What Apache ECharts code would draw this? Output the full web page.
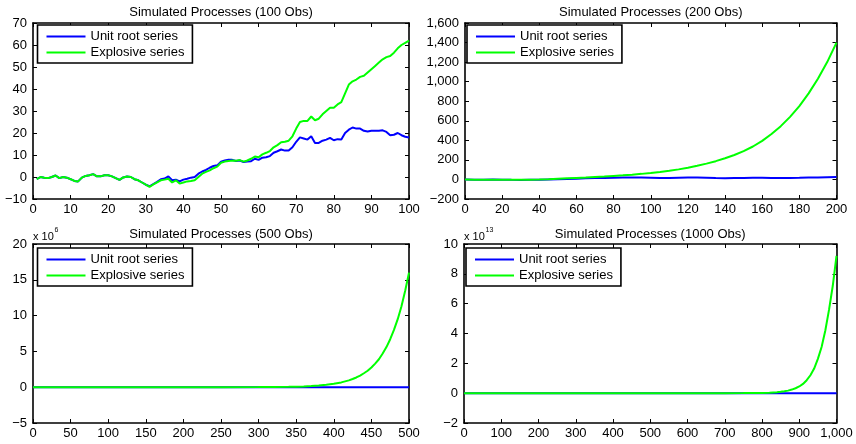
<!DOCTYPE html>
<html>
<head>
<meta charset="utf-8">
<script src="https://cdn.jsdelivr.net/npm/echarts@6/dist/echarts.min.js"></script>
<style>
html,body{margin:0;padding:0;background:#fff;}
#c{width:856px;height:444px;}
</style>
</head>
<body>
<div id="c"></div>
<script>
// ---------- DATA ----------
var seriesNames = ['Unit root series', 'Explosive series'];
var titles = ['Simulated Processes (100 Obs)', 'Simulated Processes (200 Obs)',
              'Simulated Processes (500 Obs)', 'Simulated Processes (1000 Obs)'];

// Panel 1 : 100 observations (t = 1..100)
var p1Obs = [];
for (var k = 1; k <= 100; k++) p1Obs.push(k);
var p1Unit = [-1, 0, -0.3, -0.5, 0, 0.7, -0.5, 0, -0.3, -1,
  -1.8, -2, -0.3, 0.5, 0.8, 1.3, 0.3, 0.3, 0.8, 0.8,
  0.3, -0.5, -1.3, -0.2, 0.2, 0, -1, -1.5, -2.5, -3.5,
  -4.2, -3.2, -2.2, -1, -0.7, 0.3, -1.5, -1.2, -2, -1.2,
  -0.8, -0.3, 0, 1.5, 2.5, 3.2, 4.2, 5, 5.3, 7,
  7.5, 7.8, 7.8, 7.3, 7.5, 6.8, 7, 7.2, 8.3, 7.8,
  8.8, 9, 9.5, 11, 11.7, 12.5, 12, 12, 13.5, 16,
  18, 17.5, 17, 18.5, 15.5, 15.5, 16.5, 17, 17.8, 16.7,
  17.2, 17, 20, 21.5, 22.5, 22, 22, 21, 20.7, 21,
  21, 21, 21.2, 20.5, 19, 19.2, 20, 19, 18.3, 18];
var p1Expl = [-1, 0, -0.3, -0.5, 0, 0.7, -0.5, 0, -0.3, -1,
  -1.8, -2, -0.3, 0.5, 0.8, 1.3, 0.3, 0.3, 0.8, 0.8,
  0.3, -0.5, -1.3, -0.2, 0.2, 0, -1, -1.5, -2.5, -3.5,
  -4.5, -3.4, -2.4, -1.5, -1.2, -0.8, -2.5, -1.5, -3, -2.5,
  -2, -1.8, -1.5, 0, 1.5, 2.3, 3, 4, 4.7, 6.5,
  7, 7.3, 7.5, 7.4, 7.7, 7, 7.5, 8.3, 9.3, 9,
  10.3, 11, 11.8, 13.5, 14.5, 15.8, 16, 16.5, 18.5, 22,
  25, 25.5, 25.5, 27.5, 25.8, 26.5, 28.5, 30, 31.5, 31.5,
  33, 34, 38, 42, 43.5, 44.3, 45.5, 46, 47.5, 49,
  50.5, 52, 53.5, 54.5, 55, 56.5, 58.5, 60, 61, 62];

// Panel 2 : 200 observations
var p2Obs = [0,5,10,15,20,25,30,35,40,45,50,55,60,65,70,75,80,85,90,95,100,
  105,110,115,120,125,130,135,140,145,150,155,160,165,170,175,180,185,190,195,200];
var p2Unit = [0,-2,-3,-1,-2,-4,-5,-3,-4,-1,2,5,8,11,14,16,18,21,20,19,18,
  16,15,18,20,19,17,14,13,15,16,18,18,16,15,16,17,19,20,23,25];
var p2Expl = [-1,-2,-3,-2,-2,-3,-4,-2,0,3,7,11,15,19,25,30,36,42,49,57,66,
  76,89,103,120,140,162,187,217,250,290,337,395,465,545,640,750,880,1030,1200,1400];

// Panel 3 : 500 observations (values in units of 10^6)
var p3Obs = [0,50,100,150,200,250,300,320,340,350,360,370,380,390,400,410,420,
  425,430,435,440,445,450,455,460,465,470,475,480,485,490,495,500];
var p3Unit = [0,-0.00001,0.00001,0.00002,0.00001,0.00002,0.00003,0.00002,0.00002,0.00003,0.00003,
  0.00002,0.00002,0.00003,0.00003,0.00004,0.00003,0.00003,0.00003,0.00004,0.00004,0.00003,
  0.00003,0.00004,0.00004,0.00004,0.00003,0.00003,0.00004,0.00004,0.00004,0.00004,0.00004];
var p3Expl = [0,0,0,0,0.0003,0.002,0.013,0.027,0.055,0.08,0.11,0.16,0.23,0.33,0.47,0.67,0.95,
  1.14,1.36,1.62,1.95,2.3,2.75,3.3,3.9,4.7,5.6,6.7,8.0,9.5,11.3,13.5,16.0];

// Panel 4 : 1000 observations (values in units of 10^13)
var p4Obs = [0,100,200,300,400,500,600,700,750,780,800,820,840,850,860,870,880,890,
  900,910,920,930,940,950,960,970,980,990,1000];
var p4Unit = [0,0,0,0,0,0,0,0,0,0,0,0,0,0,0,0,0,0,0,0,0,0,0,0,0,0,0,0,0];
var p4Expl = [0,0,0,0,0,0,0,0.0007,0.0035,0.009,0.018,0.034,0.065,0.09,0.125,0.17,0.24,0.33,
  0.45,0.62,0.87,1.2,1.65,2.3,3.1,4.2,5.6,7.2,9.2];

// Axis ranges / tick intervals
var xRanges = [[0,100,10],[0,200,20],[0,500,50],[0,1000,100]];
var yRanges = [[-10,70,10],[-200,1600,200],[-5,20,5],[-2,10,2]];
var exponents = [null, null, '6', '13'];

// ---------- LAYOUT ----------
var grids = [
  {left:33, top:23, width:376, height:176},
  {left:465, top:23, width:371.5, height:176},
  {left:33, top:244, width:376, height:179},
  {left:464, top:244, width:372.5, height:179}
];
var legendPos = [[37.5,25],[467,25],[37.5,248],[466,248]];

var FONT = '"Liberation Sans", Arial, Helvetica, sans-serif';

function fmt(v){
  var a = Math.abs(v);
  var s = String(Math.round(a * 1000) / 1000);
  var parts = s.split('.');
  parts[0] = parts[0].replace(/\B(?=(\d{3})+(?!\d))/g, ',');
  s = parts.join('.');
  return (v < 0 ? '\u2212' : '') + s;
}

var xAxes = [], yAxes = [], series = [], titleArr = [], legends = [];
var data = [[p1Obs,p1Unit,p1Expl],[p2Obs,p2Unit,p2Expl],[p3Obs,p3Unit,p3Expl],[p4Obs,p4Unit,p4Expl]];

for (var i = 0; i < 4; i++) {
  var xr = xRanges[i], yr = yRanges[i];
  var axLine = {show:true, onZero:false, lineStyle:{color:'#000', width:1.6}};
  var tick = {show:true, inside:true, length:4, lineStyle:{color:'#000', width:1}};
  // bottom & top x axes
  xAxes.push({type:'value', gridIndex:i, position:'bottom', min:xr[0], max:xr[1], interval:xr[2],
    axisLine:axLine, axisTick:tick, splitLine:{show:false},
    axisLabel:{show:true, margin:4, color:'#000', fontSize:13, fontFamily:FONT, formatter:fmt}});
  xAxes.push({type:'value', gridIndex:i, position:'top', min:xr[0], max:xr[1], interval:xr[2],
    axisLine:axLine, axisTick:tick, splitLine:{show:false}, axisLabel:{show:false}});
  yAxes.push({type:'value', gridIndex:i, position:'left', min:yr[0], max:yr[1], interval:yr[2],
    axisLine:axLine, axisTick:tick, splitLine:{show:false},
    axisLabel:{show:true, margin:6, color:'#000', fontSize:13, fontFamily:FONT, formatter:fmt}});
  yAxes.push({type:'value', gridIndex:i, position:'right', min:yr[0], max:yr[1], interval:yr[2],
    axisLine:axLine, axisTick:tick, splitLine:{show:false}, axisLabel:{show:false}});

  var d = data[i];
  var unitPts = d[0].map(function(x, j){ return [x, d[1][j]]; });
  var explPts = d[0].map(function(x, j){ return [x, d[2][j]]; });
  series.push({name:seriesNames[0], type:'line', xAxisIndex:2*i, yAxisIndex:2*i,
    data:unitPts, showSymbol:false, symbol:'none', color:'#0000ff',
    lineStyle:{color:'#0000ff', width:2}, animation:false});
  series.push({name:seriesNames[1], type:'line', xAxisIndex:2*i, yAxisIndex:2*i,
    data:explPts, showSymbol:false, symbol:'none', color:'#00ff00',
    lineStyle:{color:'#00ff00', width:2}, animation:false});

  var g = grids[i];
  titleArr.push({text:titles[i], left:g.left + g.width/2, top: i < 2 ? 5.5 : 227.5, textAlign:'center', padding:0,
    textStyle:{fontSize:13, fontWeight:'normal', color:'#000', fontFamily:FONT}});
  if (exponents[i]) {
    titleArr.push({text:'x 10', left:g.left, top:231, padding:0,
      textStyle:{fontSize:11, fontWeight:'normal', color:'#000', fontFamily:FONT}});
    titleArr.push({text:exponents[i], left:g.left + 21.5, top:227, padding:0,
      textStyle:{fontSize:7, fontWeight:'normal', color:'#000', fontFamily:FONT}});
  }
  legends.push({data:seriesNames, orient:'vertical', left:legendPos[i][0], top:legendPos[i][1],
    icon:'rect', itemWidth:39, itemHeight:2, itemGap:2, selectedMode:false,
    backgroundColor:'#fff', borderColor:'#000', borderWidth:1.6, borderRadius:0,
    padding:[4.5,8,3.5,9],
    textStyle:{fontSize:13, color:'#000', fontFamily:FONT, lineHeight:14}});
}

var chart = echarts.init(document.getElementById('c'), null, {renderer:'canvas'});
chart.setOption({
  animation:false,
  backgroundColor:'#fff',
  title:titleArr,
  legend:legends,
  grid:grids.map(function(g){ return {left:g.left, top:g.top, width:g.width, height:g.height, containLabel:false}; }),
  xAxis:xAxes,
  yAxis:yAxes,
  series:series
});
</script>
</body>
</html>
